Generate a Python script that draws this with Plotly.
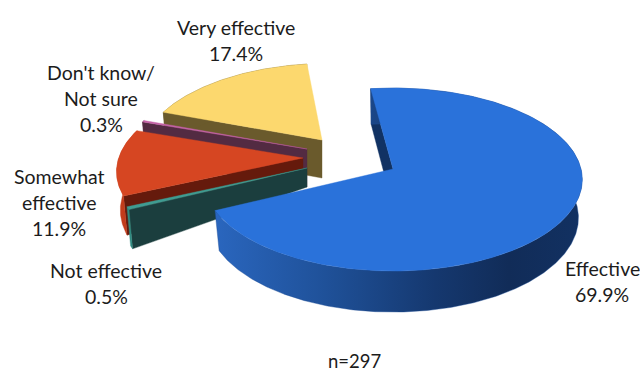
import math
import plotly.graph_objects as go

# Survey responses, in the clockwise order they appear round the pie
categories = ["Effective", "Not effective", "Somewhat effective", "Don't know/ Not sure", "Very effective"]
shares = [69.9, 0.5, 11.9, 0.3, 17.4]
sample_note = "n=297"

# Each response's label text, one entry per line (the share is appended as a last line)
label_lines = [["Effective"], ["Not effective"], ["Somewhat", "effective"], ["Don't know/", "Not sure"], ["Very effective"]]

WIDTH, HEIGHT = 640, 374
FIRST_ANGLE = -7.6      # clockwise from straight back, degrees
RX, RY, PERSP = 188.0, 90.3, 0.115
DEPTH, BASE_SX, BASE_SY = 38.0, 0.98, 1.03
FONT = "Lato"
FONT_SIZE = 19.5
LINE_STEP = 26
TEXT_COLOR = "#1c1c1c"

# Exploded placement and colours per slice
slice_style = [
    dict(apex=(393, 169), scale=1.0, shear=0.0, apex_depth=38,
         top="#2A72DA", wall="#113263", rim="#1B4C96"),
    dict(apex=(307, 168), scale=1.0, shear=0.0, apex_depth=19,
         top="#3F9C92", wall="#1B3E3E", rim="#2F8A80"),
    dict(apex=(303, 158), scale=0.98, shear=-0.08, apex_depth=20,
         top="#D64622", wall="#651A0C", rim="#C23C1B"),
    dict(apex=(307, 149), scale=0.97, shear=-0.08, apex_depth=38,
         top="#C462A6", wall="#532B42", rim="#532B42"),
    dict(apex=(322, 140), scale=0.945, shear=-0.08, apex_depth=38,
         top="#FCD86E", wall="#6A5A2C", rim="#6A5A2C"),
]
rim_gradient = [[0, "#2A66BE"], [0.3, "#1F5199"], [0.6, "#15386F"], [0.8, "#112C58"], [1, "#123162"]]
label_anchor = [(602, 268), (106, 270), (59, 176), (101, 72), (236, 27)]


def ring_point(theta_deg, style):
    """Offset of a rim point from the slice apex, on the top face."""
    t = math.radians(theta_deg)
    u, v = math.sin(t), math.cos(t)
    w = 1 + PERSP * v
    dx, dy = RX * u / w, -RY * v / w
    return style["scale"] * (dx + style["shear"] * dy), style["scale"] * dy


def arc(a0, a1, style):
    n = max(2, int(abs(a1 - a0) * 2))
    return [ring_point(a0 + (a1 - a0) * i / n, style) for i in range(n + 1)]


def add_poly(fig, pts, color, name, gradient=None):
    kw = dict(fillcolor=color)
    if gradient:
        kw = dict(fillgradient=dict(type="horizontal", colorscale=gradient))
    fig.add_trace(go.Scatter(
        x=[p[0] for p in pts] + [pts[0][0]], y=[p[1] for p in pts] + [pts[0][1]],
        mode="lines", fill="toself", line=dict(width=0.4, color=color),
        name=name, hoverinfo="name", showlegend=False, **kw))


# Sweep of each slice, derived from its share
sweeps = []
angle = FIRST_ANGLE
for s in shares:
    sweeps.append((angle, angle + s * 3.6))
    angle += s * 3.6

fig = go.Figure()
# Painted back to front: each slice draws its cut wall, outer rim, then top face
for i in [4, 3, 2, 1, 0]:
    st = slice_style[i]
    ax, ay = st["apex"]
    a0, a1 = sweeps[i]
    top = [(ax + dx, ay + dy) for dx, dy in arc(a0, a1, st)]
    bottom = [(ax + BASE_SX * dx, ay + DEPTH + BASE_SY * dy) for dx, dy in arc(a0, a1, st)]
    add_poly(fig, [top[0], (ax, ay), (ax, ay + st["apex_depth"]), bottom[0]], st["wall"], categories[i])
    add_poly(fig, top + bottom[::-1], st["rim"], categories[i], rim_gradient if i == 0 else None)
    add_poly(fig, [(ax, ay)] + top, st["top"], categories[i])

annotations = []
for lines, share, (cx, cy) in zip(label_lines, shares, label_anchor):
    for k, line in enumerate(lines + [f"{share}%"]):
        annotations.append(dict(x=cx, y=cy + k * LINE_STEP, text=line, showarrow=False,
                                xanchor="center", yanchor="middle"))
# Footnote sits just high enough for its whole text box to stay on the page
annotations.append(dict(x=354, y=361, text=sample_note, showarrow=False,
                        font=dict(size=18.5), xanchor="center", yanchor="middle"))

fig.update_layout(
    width=WIDTH, height=HEIGHT, margin=dict(l=0, r=0, t=0, b=0, pad=0),
    paper_bgcolor="white", plot_bgcolor="white", showlegend=False,
    font=dict(family=FONT, size=FONT_SIZE, color=TEXT_COLOR),
    annotations=annotations,
    xaxis=dict(range=[0, WIDTH], visible=False, fixedrange=True),
    yaxis=dict(range=[HEIGHT, 0], visible=False, fixedrange=True),
)
fig.write_html("out.html")
